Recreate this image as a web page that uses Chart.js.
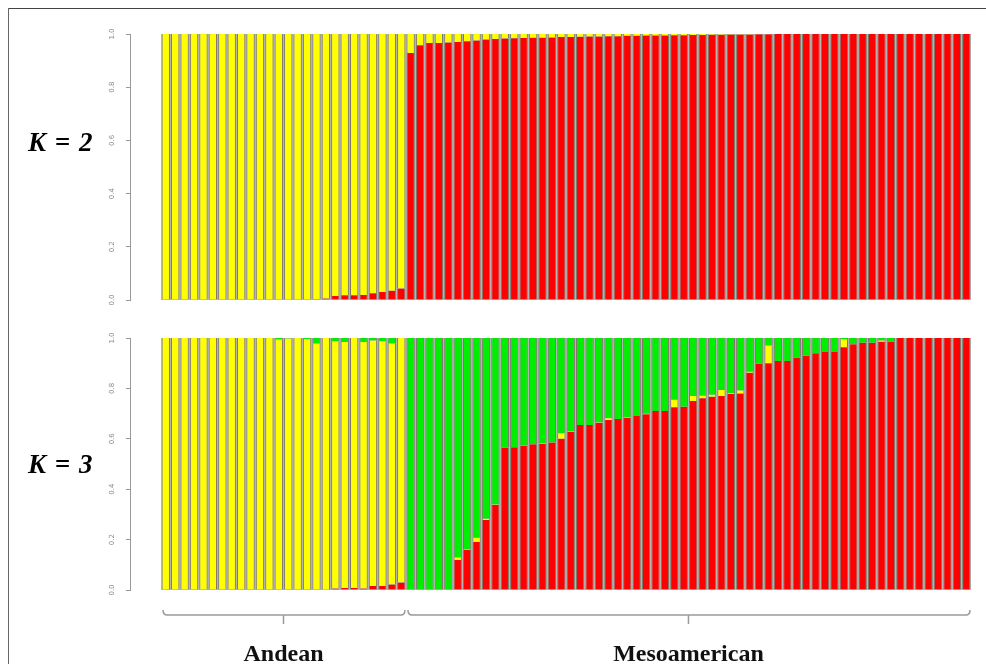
<!DOCTYPE html>
<html>
<head>
<meta charset="utf-8">
<script src="https://cdn.jsdelivr.net/npm/chart.js@4/dist/chart.umd.min.js"></script>
<style>
  html, body { margin: 0; padding: 0; background: #fff; }
  #wrap { position: relative; width: 986px; height: 664px; overflow: hidden; background: #fff; }
  canvas { position: absolute; left: 0; }
  #cK2 { top: 0; }
  #cK3 { top: 320px; }
  .k { position: absolute; left: 28px; font: italic bold 27px "Liberation Serif", "Times New Roman", serif;
       color: #000; line-height: 1; white-space: pre; word-spacing: 2px; }
  #frameTop { position: absolute; left: 8px; top: 8px; width: 978px; height: 1px; background: #444; }
  #frameLeft { position: absolute; left: 8px; top: 8px; width: 1px; height: 656px; background: #666; }
</style>
</head>
<body>
<div id="wrap">
  <div id="frameTop"></div>
  <div id="frameLeft"></div>
  <canvas id="cK2" width="986" height="320"></canvas>
  <canvas id="cK3" width="986" height="344"></canvas>
  <div class="k" style="top:129px">K = 2</div>
  <div class="k" style="top:451px">K = 3</div>
</div>
<script>
// Population groups (individuals are sorted within each group)
const groups = ['Andean', 'Mesoamerican'];
const groupSizes = [26, 60];
const yTicks = [0, 0.2, 0.4, 0.6, 0.8, 1.0];

// Cluster membership proportions, K = 2 (Andean individuals, then Mesoamerican)
const k2Red = [
  0, 0, 0, 0, 0, 0, 0, 0, 0, 0, 0, 0, 0,
  0.001, 0.002, 0.002, 0.003, 0.006, 0.015, 0.018, 0.018, 0.019, 0.025, 0.030, 0.035, 0.043,
  0.929, 0.958, 0.966, 0.966, 0.968, 0.970, 0.973, 0.976, 0.979, 0.981,
  0.983, 0.984, 0.985, 0.986, 0.986, 0.987, 0.989, 0.989, 0.990, 0.991,
  0.991, 0.992, 0.992, 0.993, 0.993, 0.994, 0.994, 0.994, 0.995, 0.995,
  0.996, 0.996, 0.997, 0.997, 0.998, 0.998, 0.998, 0.999, 0.999, 1,
  1, 1, 1, 1, 1, 1, 1, 1, 1, 1, 1, 1, 1, 1, 1, 1, 1, 1, 1, 1
];
const k2Yellow = [
  1, 1, 1, 1, 1, 1, 1, 1, 1, 1, 1, 1, 1,
  0.999, 0.998, 0.998, 0.997, 0.994, 0.985, 0.982, 0.982, 0.981, 0.975, 0.970, 0.965, 0.957,
  0.071, 0.042, 0.034, 0.034, 0.032, 0.030, 0.027, 0.024, 0.021, 0.019,
  0.017, 0.016, 0.015, 0.014, 0.014, 0.013, 0.011, 0.011, 0.010, 0.009,
  0.009, 0.008, 0.008, 0.007, 0.007, 0.006, 0.006, 0.006, 0.005, 0.005,
  0.004, 0.004, 0.003, 0.003, 0.002, 0.002, 0.002, 0.001, 0.001, 0,
  0, 0, 0, 0, 0, 0, 0, 0, 0, 0, 0, 0, 0, 0, 0, 0, 0, 0, 0, 0
];

// Cluster membership proportions, K = 3
const k3Red = [
  0, 0, 0, 0, 0, 0, 0, 0, 0, 0, 0, 0, 0, 0, 0, 0, 0,
  0.001, 0.006, 0.008, 0.008, 0.006, 0.016, 0.016, 0.022, 0.030,
  0, 0, 0, 0, 0, 0.119, 0.159, 0.190, 0.278, 0.337,
  0.565, 0.566, 0.573, 0.578, 0.580, 0.585, 0.600, 0.628, 0.655, 0.655,
  0.664, 0.675, 0.679, 0.684, 0.690, 0.697, 0.710, 0.710, 0.725, 0.727,
  0.750, 0.761, 0.767, 0.770, 0.778, 0.780, 0.862, 0.899, 0.900, 0.909,
  0.909, 0.923, 0.930, 0.939, 0.944, 0.944, 0.963, 0.975, 0.981, 0.981,
  0.985, 0.986, 1, 1, 1, 1, 1, 1, 1, 1
];
const k3Yellow = [
  1, 1, 1, 1, 1, 1, 1, 1, 1, 1, 1, 1,
  0.994, 0.998, 1, 0.996, 0.978, 0.999, 0.981, 0.976, 0.992, 0.978, 0.974, 0.971, 0.956, 0.970,
  0, 0, 0, 0, 0, 0.010, 0.002, 0.017, 0.005, 0.002,
  0, 0, 0.002, 0, 0.002, 0, 0.022, 0.002, 0, 0,
  0.002, 0.007, 0, 0.002, 0, 0.002, 0, 0, 0.030, 0,
  0.020, 0.010, 0.008, 0.024, 0.003, 0.012, 0.004, 0, 0.070, 0,
  0, 0, 0, 0, 0, 0, 0.032, 0, 0, 0,
  0.005, 0, 0, 0, 0, 0, 0, 0, 0, 0
];
const k3Green = [
  0, 0, 0, 0, 0, 0, 0, 0, 0, 0, 0, 0,
  0.006, 0.002, 0, 0.004, 0.022, 0, 0.013, 0.016, 0, 0.016, 0.010, 0.013, 0.022, 0,
  1, 1, 1, 1, 1, 0.871, 0.839, 0.793, 0.717, 0.661,
  0.435, 0.434, 0.425, 0.422, 0.418, 0.415, 0.378, 0.370, 0.345, 0.345,
  0.334, 0.318, 0.321, 0.314, 0.310, 0.301, 0.290, 0.290, 0.245, 0.273,
  0.230, 0.229, 0.225, 0.206, 0.219, 0.208, 0.134, 0.101, 0.030, 0.091,
  0.091, 0.077, 0.070, 0.061, 0.056, 0.056, 0.005, 0.025, 0.019, 0.019,
  0.010, 0.014, 0, 0, 0, 0, 0, 0, 0, 0
];

const RED = '#ff0000', YELLOW = '#ffff00', GREEN = '#00ee00';
const nInd = k2Red.length;

// group centres and boundaries on the individual index axis
const groupStarts = [];
groupSizes.reduce((s, size) => { groupStarts.push(s); return s + size; }, 0);
const groupCenters = groupStarts.map((s, i) => s + groupSizes[i] / 2 - 0.5);

const toPoints = arr => arr.map((v, i) => ({ x: i, y: v }));

const barStyle = {
  barPercentage: 0.88,
  categoryPercentage: 1,
  borderWidth: { top: 0, left: 1, bottom: 0, right: 1 },
  borderColor: 'rgba(80, 70, 50, 0.55)',
  borderSkipped: false
};

// light grey strip behind the bars, visible in the gaps between individuals
const panelBackground = {
  id: 'panelBackground',
  beforeDatasetsDraw(chart) {
    const { ctx, chartArea, scales: { x } } = chart;
    const left = x.getPixelForValue(-0.5);
    const right = x.getPixelForValue(nInd - 0.5);
    ctx.save();
    ctx.fillStyle = '#b5b5b5';
    ctx.fillRect(left, chartArea.top, right - left, chartArea.bottom - chartArea.top);
    ctx.restore();
  }
};

// brackets under the lower panel marking each population group
const groupBrackets = {
  id: 'groupBrackets',
  afterDraw(chart) {
    const { ctx, chartArea, scales: { x } } = chart;
    const y = chartArea.bottom + 25;
    ctx.save();
    ctx.strokeStyle = '#9a9a9a';
    ctx.lineWidth = 1.5;
    groupSizes.forEach((size, g) => {
      const start = groupStarts[g];
      const x0 = x.getPixelForValue(start - 0.5) + 2;
      const x1 = x.getPixelForValue(start + size - 0.5) - 1;
      const xc = x.getPixelForValue(groupCenters[g]);
      ctx.beginPath();
      ctx.moveTo(x0, y - 5);
      ctx.quadraticCurveTo(x0, y, x0 + 4, y);
      ctx.lineTo(x1 - 4, y);
      ctx.quadraticCurveTo(x1, y, x1, y - 5);
      ctx.moveTo(xc, y);
      ctx.lineTo(xc, y + 9);
      ctx.stroke();
    });
    ctx.restore();
  }
};

function yScale() {
  return {
    min: 0,
    max: 1,
    stacked: true,
    afterBuildTicks: s => { s.ticks = yTicks.map(v => ({ value: v })); },
    afterFit: s => { s.width = 40; },
    border: { color: '#999', width: 1 },
    grid: { drawOnChartArea: false, tickLength: 4, color: '#999', lineWidth: 1 },
    ticks: {
      minRotation: 90,
      maxRotation: 90,
      crossAlign: 'center',
      padding: 8,
      color: '#8a8a8a',
      font: { size: 7, family: 'DejaVu Sans' },
      callback: v => Number(v).toFixed(1)
    }
  };
}

function makeChart(id, datasets, xOpts, padding, plugins) {
  return new Chart(document.getElementById(id), {
    type: 'bar',
    data: { datasets },
    options: {
      responsive: false,
      animation: false,
      events: [],
      devicePixelRatio: 1,
      layout: { padding },
      plugins: { legend: { display: false }, tooltip: { enabled: false } },
      scales: {
        x: Object.assign({
          type: 'linear', min: -3.8, max: nInd - 0.5, stacked: true,
          offset: false, bounds: 'data'
        }, xOpts),
        y: yScale()
      }
    },
    plugins
  });
}

makeChart('cK2', [
  Object.assign({ data: toPoints(k2Red), backgroundColor: RED }, barStyle),
  Object.assign({ data: toPoints(k2Yellow), backgroundColor: YELLOW }, barStyle)
], { display: false, grid: { offset: false } }, { left: 90, right: 15, top: 34, bottom: 20 }, [panelBackground]);

makeChart('cK3', [
  Object.assign({ data: toPoints(k3Red), backgroundColor: RED }, barStyle),
  Object.assign({ data: toPoints(k3Yellow), backgroundColor: YELLOW }, barStyle),
  Object.assign({ data: toPoints(k3Green), backgroundColor: GREEN }, barStyle)
], {
  display: true,
  grid: { display: false, offset: false },
  border: { display: false },
  afterBuildTicks: s => { s.ticks = groupCenters.map(v => ({ value: v })); },
  afterFit: s => { s.height = 74; },
  ticks: {
    autoSkip: false,
    maxRotation: 0,
    minRotation: 0,
    padding: 42,
    color: '#111',
    font: { size: 24, weight: 'bold', family: '"Liberation Serif", "Times New Roman", serif' },
    callback: (v, i) => groups[i]
  }
}, { left: 90, right: 15, top: 18, bottom: 0 }, [panelBackground, groupBrackets]);
</script>
</body>
</html>
